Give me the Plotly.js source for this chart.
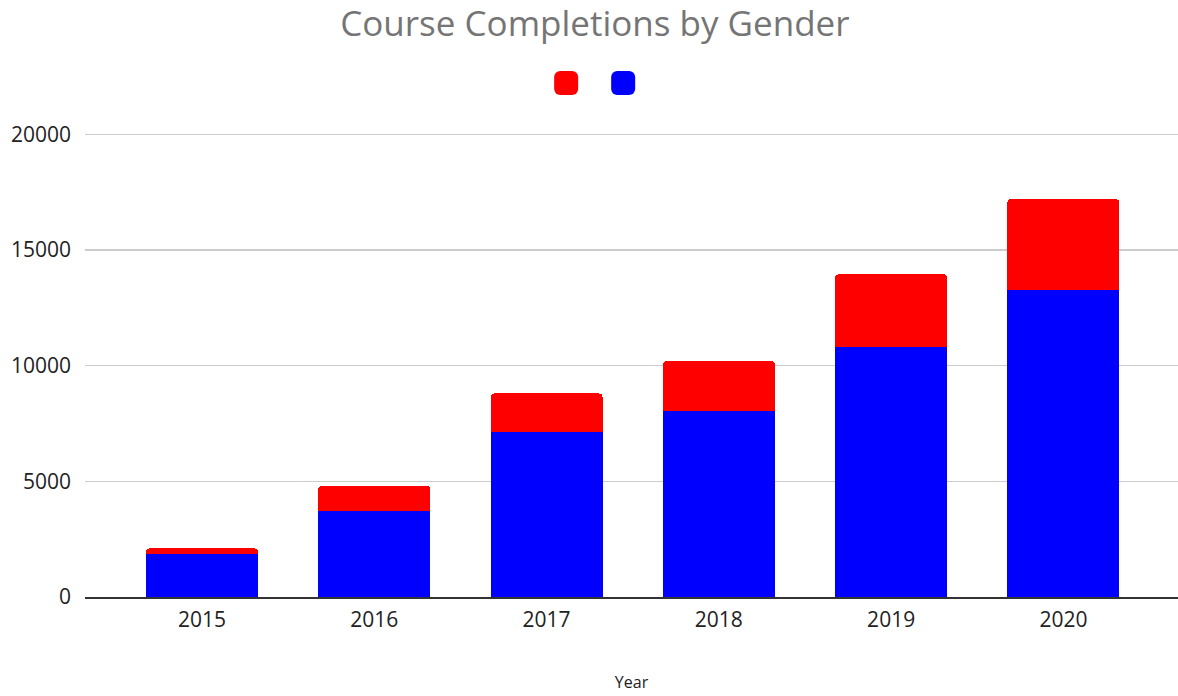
<!DOCTYPE html>
<html><head><meta charset="utf-8">
<script src="https://cdn.plot.ly/plotly-3.0.1.min.js"></script>
<style>html,body{margin:0;padding:0;background:#fff}#chart{width:1178px;height:696px}
.legend .legendpoints path{transform:scale(2);}
.legend .scrollbox{clip-path:none !important;}
</style>
</head><body><div id="chart"></div>
<script>
const years = ["2015","2016","2017","2018","2019","2020"];
const male = [1850, 3700, 7150, 8050, 10800, 13250];
const female = [250, 1100, 1650, 2150, 3150, 3950];
const yTicks = [0, 5000, 10000, 15000, 20000];

const data = [
  {type:'bar', x: years, y: male, name: ' ', marker:{color:'#0000ff'}, hoverinfo:'x+y'},
  {type:'bar', x: years, y: female, name: ' ', marker:{color:'#ff0000'}, hoverinfo:'x+y'}
];
const layout = {
  width:1178, height:696,
  font:{family:'"Open Sans", sans-serif', color:'#222', size:21},
  title:{text:'Course Completions by Gender', font:{size:35, color:'#757575'}, x:0.505, xanchor:'center', y:0.966, yanchor:'middle'},
  barmode:'stack', bargap:0.35, barcornerradius:4,
  margin:{l:85, r:0, t:132, b:99},
  showlegend:true,
  legend:{orientation:'h', xref:'container', x:0.529, xanchor:'center', yref:'container', y:0.88, yanchor:'middle', font:{size:17}, itemwidth:30, entrywidth:12, traceorder:'reversed'},
  xaxis:{type:'category', range:[-0.679, 5.665], showgrid:false, showline:true, linecolor:'#333', linewidth:2, ticks:'', ticklabelstandoff:3,
    title:{text:'Year', font:{size:16}, standoff:45}},
  yaxis:{range:[0,20100], tickvals:yTicks, ticktext:yTicks.map(String), gridcolor:'#cccccc', gridwidth:1.5, zeroline:false, showline:false, ticks:'', ticklabelstandoff:13, fixedrange:true},
  plot_bgcolor:'#fff', paper_bgcolor:'#fff'
};
Plotly.newPlot('chart', data, layout, {displayModeBar:false, staticPlot:true});
</script>
</body></html>
